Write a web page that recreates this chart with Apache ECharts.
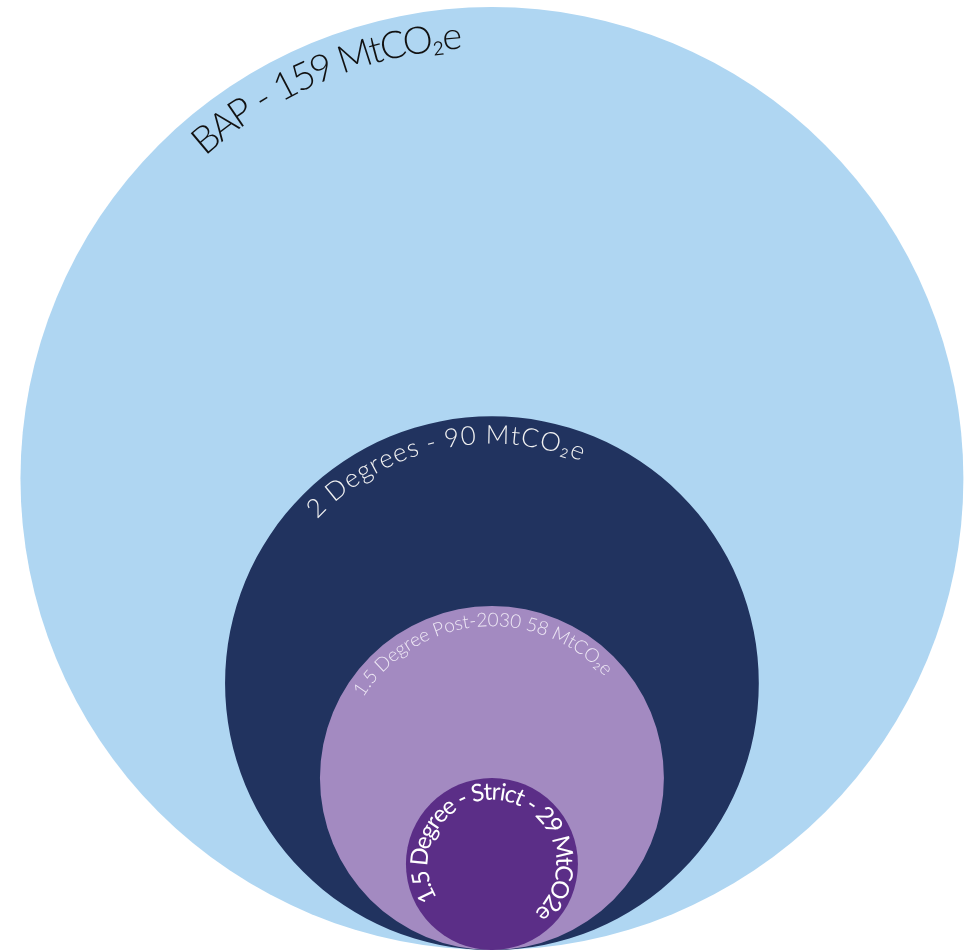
<!DOCTYPE html>
<html>
<head>
<meta charset="utf-8">
<script src="https://cdn.jsdelivr.net/npm/echarts@6/dist/echarts.min.js"></script>
<style>
html,body{margin:0;padding:0;background:#fff;}
#chart{width:972px;height:950px;}
</style>
</head>
<body>
<div id="chart"></div>
<script>
// ---- data ----
const categories = ['BAP', '2 Degrees', '1.5 Degree Post-2030', '1.5 Degree - Strict'];
const values = [159, 90, 58, 29];
const labelTexts = ['BAP - 159 MtCO₂e', '2 Degrees - 90 MtCO₂e', '1.5 Degree Post-2030 58 MtCO₂e', '1.5 Degree - Strict - 29 MtCO2e'];

// ---- styles ----
const fills = ['#AFD6F2', '#21335F', '#A38AC1', '#5B2E87'];
const labelColors = ['#111111', '#F2F2F2', '#EEE8F5', '#FFFFFF'];
const labelFontSizes = [38, 26, 19, 24];
const labelWeights = [300, 300, 300, 400];
const labelInsets = [28, 19, 14, 14];
const labelArcs = [[-41.5, -4], [-47, 22], [-58, 48], [-121, 138]];
const fontFamily = "Lato, 'Open Sans', 'Noto Sans', sans-serif";

const measureCtx = document.createElement('canvas').getContext('2d');

function curvedText(text, cx, cy, R, a0, a1, size, weight, color) {
  const font = weight + ' ' + size + 'px ' + fontFamily;
  measureCtx.font = font;
  const chars = Array.from(text);
  const widths = chars.map(c => measureCtx.measureText(c).width);
  const total = widths.reduce((a, b) => a + b, 0);
  const span = (a1 - a0) * Math.PI / 180;
  const start = a0 * Math.PI / 180;
  let acc = 0;
  const els = [];
  chars.forEach((c, i) => {
    const th = start + span * (acc + widths[i] / 2) / total;
    acc += widths[i];
    if (c === ' ') return;
    els.push({
      type: 'text',
      x: cx + R * Math.sin(th),
      y: cy - R * Math.cos(th),
      rotation: -th,
      style: {
        text: c, fill: color, font: font,
        align: 'center', verticalAlign: 'middle'
      },
      z2: 10
    });
  });
  return els;
}

const chart = echarts.init(document.getElementById('chart'), null, {renderer: 'canvas'});
chart.setOption({
  backgroundColor: '#ffffff',
  animation: false,
  grid: {left: 0, top: 0, width: 972, height: 950},
  xAxis: {type: 'value', min: -165.9, max: 161.9, show: false},
  yAxis: {type: 'value', min: 0, max: 320.4, show: false},
  series: [{
    type: 'custom',
    coordinateSystem: 'cartesian2d',
    data: values.map((v, i) => [0, v, i]),
    renderItem: function (params, api) {
      const v = api.value(1);
      const i = api.value(2);
      const c = api.coord([0, v]);
      const r = api.size([v, 0])[0];
      const children = [{
        type: 'circle',
        shape: {cx: c[0], cy: c[1], r: r},
        style: {fill: fills[i]}
      }];
      const arc = labelArcs[i];
      return {
        type: 'group',
        children: children.concat(curvedText(labelTexts[i], c[0], c[1], r - labelInsets[i], arc[0], arc[1], labelFontSizes[i], labelWeights[i], labelColors[i]))
      };
    }
  }]
});
</script>
</body>
</html>
